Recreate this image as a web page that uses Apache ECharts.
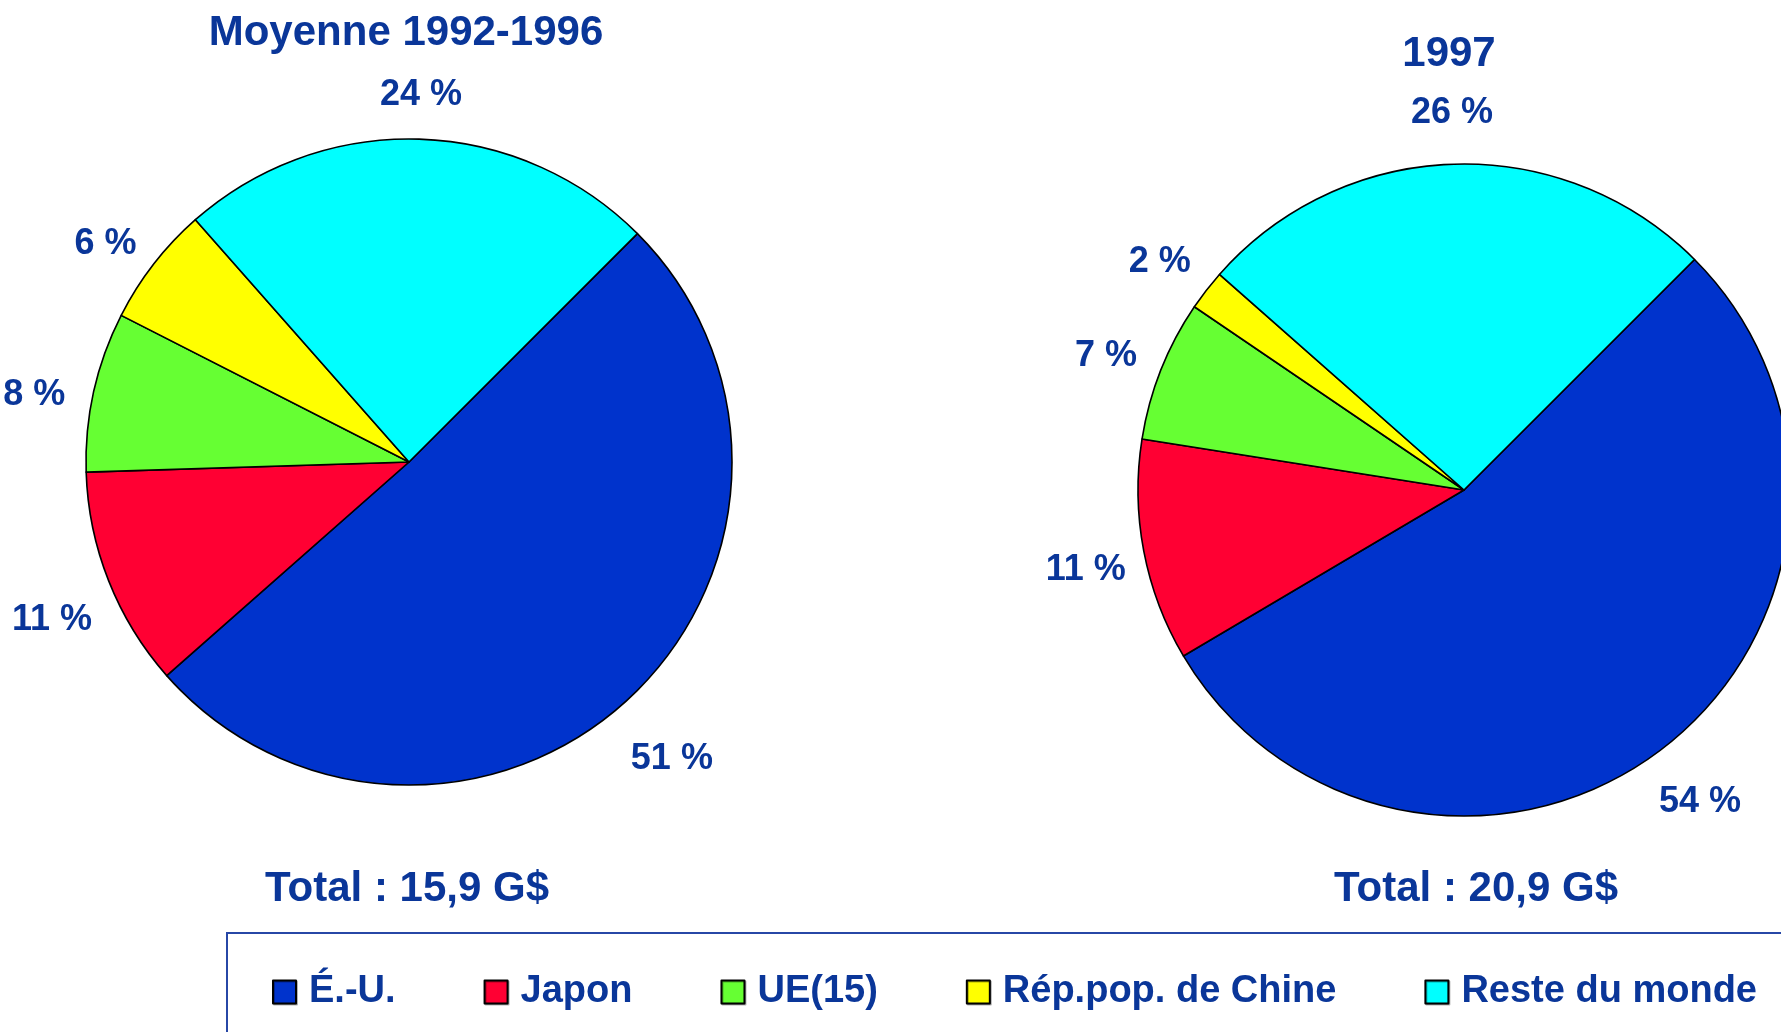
<!DOCTYPE html>
<html>
<head>
<meta charset="utf-8">
<title>Moyenne 1992-1996 / 1997</title>
<script src="https://cdn.jsdelivr.net/npm/echarts@6/dist/echarts.min.js"></script>
<style>
  html, body { margin: 0; padding: 0; background: #fff; }
  #chart { width: 1781px; height: 1032px; }
</style>
</head>
<body>
<div id="chart"></div>
<script>
var categories = ['É.-U.', 'Japon', 'UE(15)', 'Rép.pop. de Chine', 'Reste du monde'];
var shares_9296 = [51, 11, 8, 6, 24];
var shares_1997 = [54, 11, 7, 2, 26];
var pieTitles = ['Moyenne 1992-1996', '1997'];
var totals = ['Total : 15,9 G$', 'Total : 20,9 G$'];

var sliceColors = ['#0033cc', '#ff0033', '#66ff33', '#ffff00', '#00ffff'];
var textBlue = '#0a3699';
var fontFam = '"Liberation Sans", Arial, sans-serif';

var mychart = echarts.init(document.getElementById('chart'));

function toData(values){
  var out = [];
  for (var i = 0; i < categories.length; i++){
    out.push({name: categories[i], value: values[i]});
  }
  return out;
}

// real pie, no labels
function pieSeries(values, center, radius){
  return {
    type: 'pie',
    center: center,
    radius: radius,
    startAngle: 45,
    clockwise: true,
    animation: false,
    data: toData(values),
    itemStyle: { borderColor: '#000', borderWidth: 1.6 },
    label: { show: false },
    labelLine: { show: false },
    emphasis: { disabled: true }
  };
}

// transparent ring that only carries the % labels around the pie
function labelRing(values, center, radius, dy){
  return {
    type: 'pie',
    center: center,
    radius: radius,
    startAngle: 45,
    clockwise: true,
    silent: true,
    animation: false,
    avoidLabelOverlap: false,
    data: toData(values),
    itemStyle: { color: 'rgba(0,0,0,0)', borderWidth: 0 },
    label: {
      show: true,
      position: 'inside',
      rotate: 0,
      offset: [0, dy],
      overflow: 'none',
      formatter: '{c} %',
      color: textBlue,
      fontFamily: fontFam,
      fontWeight: 'bold',
      fontSize: 36
    },
    labelLine: { show: false },
    emphasis: { disabled: true }
  };
}

function textEl(str, x, y, size){
  return {
    type: 'text',
    x: x,
    y: y,
    style: {
      text: str,
      fill: textBlue,
      font: 'bold ' + size + 'px ' + fontFam,
      align: 'center',
      verticalAlign: 'middle'
    }
  };
}

function setChart(){
  var option = {
    color: sliceColors,
    legend: {
      orient: 'horizontal',
      left: 272,
      top: 967,
      padding: 0,
      itemWidth: 23,
      itemHeight: 23,
      itemGap: 88,
      icon: 'rect',
      selectedMode: false,
      itemStyle: {
        borderColor: '#000',
        borderWidth: 2,
        shadowColor: 'rgba(0,0,0,0.3)',
        shadowOffsetX: 1,
        shadowOffsetY: 1
      },
      textStyle: {
        color: textBlue,
        fontFamily: fontFam,
        fontWeight: 'bold',
        fontSize: 38,
        lineHeight: 38,
        padding: [12, 0, 0, 8]
      },
      data: categories
    },
    series: [
      pieSeries(shares_9296, [409, 462], 323),
      pieSeries(shares_1997, [1464, 490], 326),
      labelRing(shares_9296, [409, 462], [361, 401], 17),
      labelRing(shares_1997, [1464, 490], [362, 402], 8)
    ],
    graphic: [
      textEl(pieTitles[0], 406, 33, 42),
      textEl(pieTitles[1], 1449, 54, 42),
      textEl(totals[0], 407, 889, 42),
      textEl(totals[1], 1476, 889, 42),
      {
        type: 'rect',
        z: -1,
        shape: { x: 227, y: 933, width: 1600, height: 200 },
        style: { fill: 'none', stroke: '#2747a6', lineWidth: 2 }
      }
    ]
  };

  mychart.setOption(option);
}

setChart();
</script>
</body>
</html>
